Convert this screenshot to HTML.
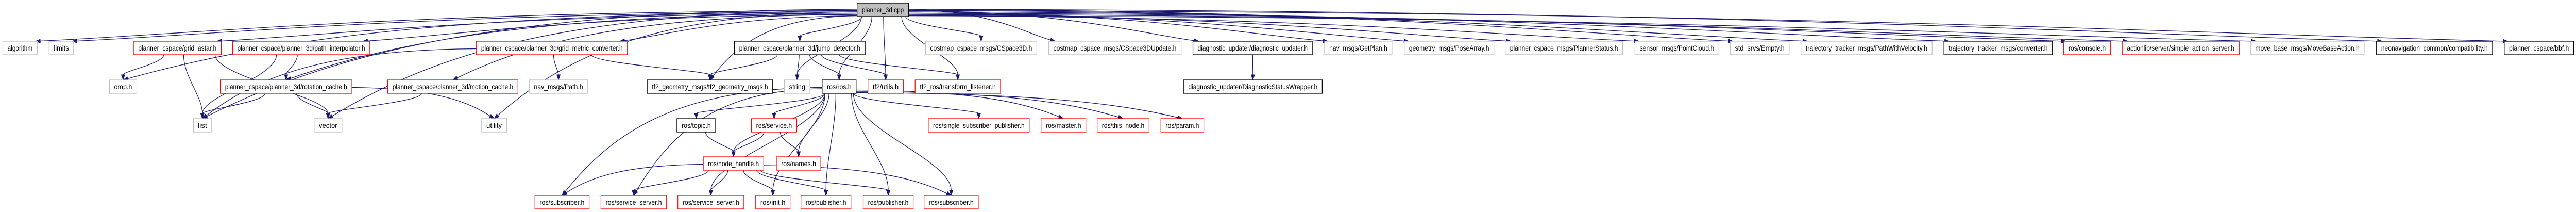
<!DOCTYPE html>
<html><head><meta charset="utf-8"><style>
html,body{margin:0;padding:0;background:#fff;width:100%;height:100%;overflow:hidden;}
svg{display:block;position:absolute;left:0;top:0;width:100vw;height:100vh;}
text{font-family:"Liberation Sans",Arial,sans-serif;font-size:13.5px;fill:#000;}
.g{fill:#fff;stroke:#bfbfbf;stroke-width:1.3}
.r{fill:#fff;stroke:#ff0000;stroke-width:1.3}
.b{fill:#fff;stroke:#000;stroke-width:1.3}
.c{fill:#bfbfbf;stroke:#000;stroke-width:1.3}
</style></head><body>
<svg id="s" viewBox="0 0 5461 411" preserveAspectRatio="none" xmlns="http://www.w3.org/2000/svg" overflow="hidden">
<g id="edges" fill="none" stroke="#191970" stroke-width="1.3"></g>
<g id="arrows" fill="#191970" stroke="#191970" stroke-width="1"></g>
<g id="nodes">
<rect class="c" x="1817" y="6" width="109" height="26"/><text x="1827" y="24" textLength="89" lengthAdjust="spacingAndGlyphs">planner_3d.cpp</text>
<rect class="g" x="6" y="80" width="73" height="26"/><text x="16" y="98" textLength="53" lengthAdjust="spacingAndGlyphs">algorithm</text>
<rect class="g" x="104" y="80" width="52" height="26"/><text x="114" y="98" textLength="32" lengthAdjust="spacingAndGlyphs">limits</text>
<rect class="r" x="283" y="80" width="186" height="26"/><text x="293" y="98" textLength="166" lengthAdjust="spacingAndGlyphs">planner_cspace/grid_astar.h</text>
<rect class="r" x="493" y="80" width="291" height="26"/><text x="503" y="98" textLength="271" lengthAdjust="spacingAndGlyphs">planner_cspace/planner_3d/path_interpolator.h</text>
<rect class="r" x="1010" y="80" width="320" height="26"/><text x="1020" y="98" textLength="300" lengthAdjust="spacingAndGlyphs">planner_cspace/planner_3d/grid_metric_converter.h</text>
<rect class="b" x="1557" y="80" width="277" height="26"/><text x="1567" y="98" textLength="257" lengthAdjust="spacingAndGlyphs">planner_cspace/planner_3d/jump_detector.h</text>
<rect class="g" x="1962" y="80" width="236" height="26"/><text x="1972" y="98" textLength="216" lengthAdjust="spacingAndGlyphs">costmap_cspace_msgs/CSpace3D.h</text>
<rect class="g" x="2223" y="80" width="281" height="26"/><text x="2233" y="98" textLength="261" lengthAdjust="spacingAndGlyphs">costmap_cspace_msgs/CSpace3DUpdate.h</text>
<rect class="b" x="2529" y="80" width="253" height="26"/><text x="2539" y="98" textLength="233" lengthAdjust="spacingAndGlyphs">diagnostic_updater/diagnostic_updater.h</text>
<rect class="g" x="2808" y="80" width="143" height="26"/><text x="2818" y="98" textLength="123" lengthAdjust="spacingAndGlyphs">nav_msgs/GetPlan.h</text>
<rect class="g" x="2977" y="80" width="190" height="26"/><text x="2987" y="98" textLength="170" lengthAdjust="spacingAndGlyphs">geometry_msgs/PoseArray.h</text>
<rect class="g" x="3191" y="80" width="249" height="26"/><text x="3201" y="98" textLength="229" lengthAdjust="spacingAndGlyphs">planner_cspace_msgs/PlannerStatus.h</text>
<rect class="g" x="3466" y="80" width="178" height="26"/><text x="3476" y="98" textLength="158" lengthAdjust="spacingAndGlyphs">sensor_msgs/PointCloud.h</text>
<rect class="g" x="3668" y="80" width="125" height="26"/><text x="3678" y="98" textLength="105" lengthAdjust="spacingAndGlyphs">std_srvs/Empty.h</text>
<rect class="g" x="3818" y="80" width="278" height="26"/><text x="3828" y="98" textLength="258" lengthAdjust="spacingAndGlyphs">trajectory_tracker_msgs/PathWithVelocity.h</text>
<rect class="b" x="4121" y="80" width="230" height="26"/><text x="4131" y="98" textLength="210" lengthAdjust="spacingAndGlyphs">trajectory_tracker_msgs/converter.h</text>
<rect class="r" x="4375" y="80" width="99" height="26"/><text x="4385" y="98" textLength="79" lengthAdjust="spacingAndGlyphs">ros/console.h</text>
<rect class="r" x="4499" y="80" width="248" height="26"/><text x="4509" y="98" textLength="228" lengthAdjust="spacingAndGlyphs">actionlib/server/simple_action_server.h</text>
<rect class="g" x="4771" y="80" width="241" height="26"/><text x="4781" y="98" textLength="221" lengthAdjust="spacingAndGlyphs">move_base_msgs/MoveBaseAction.h</text>
<rect class="b" x="5038" y="80" width="246" height="26"/><text x="5048" y="98" textLength="226" lengthAdjust="spacingAndGlyphs">neonavigation_common/compatibility.h</text>
<rect class="b" x="5309" y="80" width="147" height="26"/><text x="5319" y="98" textLength="127" lengthAdjust="spacingAndGlyphs">planner_cspace/bbf.h</text>
<rect class="g" x="232" y="155" width="58" height="26"/><text x="242" y="173" textLength="38" lengthAdjust="spacingAndGlyphs">omp.h</text>
<rect class="r" x="467" y="155" width="279" height="26"/><text x="477" y="173" textLength="259" lengthAdjust="spacingAndGlyphs">planner_cspace/planner_3d/rotation_cache.h</text>
<rect class="r" x="822" y="155" width="276" height="26"/><text x="832" y="173" textLength="256" lengthAdjust="spacingAndGlyphs">planner_cspace/planner_3d/motion_cache.h</text>
<rect class="g" x="1122" y="155" width="124" height="26"/><text x="1132" y="173" textLength="104" lengthAdjust="spacingAndGlyphs">nav_msgs/Path.h</text>
<rect class="b" x="1372" y="155" width="266" height="26"/><text x="1382" y="173" textLength="246" lengthAdjust="spacingAndGlyphs">tf2_geometry_msgs/tf2_geometry_msgs.h</text>
<rect class="g" x="1663" y="155" width="54" height="26"/><text x="1673" y="173" textLength="34" lengthAdjust="spacingAndGlyphs">string</text>
<rect class="b" x="1743" y="155" width="72" height="26"/><text x="1753" y="173" textLength="52" lengthAdjust="spacingAndGlyphs">ros/ros.h</text>
<rect class="r" x="1840" y="155" width="75" height="26"/><text x="1850" y="173" textLength="55" lengthAdjust="spacingAndGlyphs">tf2/utils.h</text>
<rect class="r" x="1940" y="155" width="181" height="26"/><text x="1950" y="173" textLength="161" lengthAdjust="spacingAndGlyphs">tf2_ros/transform_listener.h</text>
<rect class="b" x="2509" y="155" width="294" height="26"/><text x="2519" y="173" textLength="274" lengthAdjust="spacingAndGlyphs">diagnostic_updater/DiagnosticStatusWrapper.h</text>
<rect class="g" x="410" y="230" width="38" height="26"/><text x="419" y="248" textLength="20" lengthAdjust="spacingAndGlyphs">list</text>
<rect class="g" x="666" y="230" width="59" height="26"/><text x="676" y="248" textLength="39" lengthAdjust="spacingAndGlyphs">vector</text>
<rect class="g" x="1021" y="230" width="53" height="26"/><text x="1031" y="248" textLength="33" lengthAdjust="spacingAndGlyphs">utility</text>
<rect class="b" x="1435" y="230" width="82" height="26"/><text x="1445" y="248" textLength="62" lengthAdjust="spacingAndGlyphs">ros/topic.h</text>
<rect class="r" x="1593" y="230" width="96" height="26"/><text x="1603" y="248" textLength="76" lengthAdjust="spacingAndGlyphs">ros/service.h</text>
<rect class="r" x="1968" y="230" width="214" height="26"/><text x="1978" y="248" textLength="194" lengthAdjust="spacingAndGlyphs">ros/single_subscriber_publisher.h</text>
<rect class="r" x="2207" y="230" width="95" height="26"/><text x="2217" y="248" textLength="75" lengthAdjust="spacingAndGlyphs">ros/master.h</text>
<rect class="r" x="2326" y="230" width="110" height="26"/><text x="2336" y="248" textLength="90" lengthAdjust="spacingAndGlyphs">ros/this_node.h</text>
<rect class="r" x="2461" y="230" width="91" height="26"/><text x="2471" y="248" textLength="71" lengthAdjust="spacingAndGlyphs">ros/param.h</text>
<rect class="r" x="1491" y="304" width="128" height="26"/><text x="1501" y="322" textLength="108" lengthAdjust="spacingAndGlyphs">ros/node_handle.h</text>
<rect class="r" x="1646" y="304" width="94" height="26"/><text x="1656" y="322" textLength="74" lengthAdjust="spacingAndGlyphs">ros/names.h</text>
<rect class="r" x="1134" y="379" width="115" height="26"/><text x="1144" y="397" textLength="95" lengthAdjust="spacingAndGlyphs">ros/subscriber.h</text>
<rect class="r" x="1274" y="379" width="139" height="26"/><text x="1284" y="397" textLength="119" lengthAdjust="spacingAndGlyphs">ros/service_server.h</text>
<rect class="r" x="1437" y="379" width="140" height="26"/><text x="1447" y="397" textLength="120" lengthAdjust="spacingAndGlyphs">ros/service_server.h</text>
<rect class="r" x="1602" y="379" width="73" height="26"/><text x="1612" y="397" textLength="53" lengthAdjust="spacingAndGlyphs">ros/init.h</text>
<rect class="r" x="1698" y="379" width="106" height="26"/><text x="1708" y="397" textLength="86" lengthAdjust="spacingAndGlyphs">ros/publisher.h</text>
<rect class="r" x="1830" y="379" width="106" height="26"/><text x="1840" y="397" textLength="86" lengthAdjust="spacingAndGlyphs">ros/publisher.h</text>
<rect class="r" x="1959" y="379" width="115" height="26"/><text x="1969" y="397" textLength="95" lengthAdjust="spacingAndGlyphs">ros/subscriber.h</text>
</g>
</svg>
<script>
var R=[6,80,155,230,304,379];
var N={cpp:[1817,1926,0],algorithm:[6,79,1],limits:[104,156,1],astar:[283,469,1],pint:[493,784,1],gmc:[1010,1330,1],jump:[1557,1834,1],cs3d:[1962,2198,1],cs3du:[2223,2504,1],diag:[2529,2782,1],getplan:[2808,2951,1],pose:[2977,3167,1],pstat:[3191,3440,1],pcl:[3466,3644,1],empty:[3668,3793,1],pwv:[3818,4096,1],conv:[4121,4351,1],console:[4375,4474,1],sas:[4499,4747,1],mba:[4771,5012,1],compat:[5038,5284,1],bbf:[5309,5456,1],omp:[232,290,2],rot:[467,746,2],motion:[822,1098,2],path:[1122,1246,2],tf2gm:[1372,1638,2],string:[1663,1717,2],ros:[1743,1815,2],utils:[1840,1915,2],tl:[1940,2121,2],dsw:[2509,2803,2],list:[410,448,3],vector:[666,725,3],utility:[1021,1074,3],topic:[1435,1517,3],service:[1593,1689,3],ssp:[1968,2182,3],master:[2207,2302,3],thisnode:[2326,2436,3],param:[2461,2552,3],nh:[1491,1619,4],names:[1646,1740,4],sub1:[1134,1249,5],ss1:[1274,1413,5],ss2:[1437,1577,5],init:[1602,1675,5],pub1:[1698,1804,5],pub2:[1830,1936,5],sub2:[1959,2074,5]};
var E=[];
["algorithm","limits","astar","pint","gmc","jump","cs3d","cs3du","diag","getplan","pose","pstat","pcl","empty","pwv","conv","console","sas","mba","compat","bbf","omp","rot","motion","tf2gm","string","ros","utils","tl","list","vector","utility"].forEach(function(t){E.push(["cpp",t]);});
E=E.concat([["astar","omp"],["astar","list"],["astar","vector"],["pint","list"],["pint","rot"],["rot","list"],["rot","vector"],["rot","utility"],["motion","vector"],["gmc","path"],["gmc","tf2gm"],["gmc","list"],["jump","tf2gm"],["jump","string"],["jump","ros"],["jump","utils"],["jump","tl"],["diag","dsw"],
["ros","topic"],["ros","service"],["ros","nh"],["ros","names"],["ros","sub1"],["ros","ss1"],["ros","ss2"],["ros","init"],["ros","pub1"],["ros","pub2"],["ros","sub2"],["ros","ssp"],["ros","master"],["ros","thisnode"],["ros","param"],
["topic","nh"],["service","nh"],["service","names"],["nh","sub1"],["nh","ss1"],["nh","ss2"],["nh","init"],["nh","pub1"],["nh","pub2"],["nh","sub2"]]);
var ns="http://www.w3.org/2000/svg",eg=document.getElementById("edges"),ag=document.getElementById("arrows");
var cnt={};
E.forEach(function(e){
 var S=N[e[0]],T=N[e[1]];
 var scx=(S[0]+S[1])/2,sy=R[S[2]]+26,tcx=(T[0]+T[1])/2,ty=R[T[2]];
 var sx,tx,c1,c2;
 var far=Math.abs(tcx-scx)>350;
 if(far){
  cnt[e[0]]=(cnt[e[0]]||0)+1;
  sy=R[S[2]]+12+(cnt[e[0]]%6)*2.5;
  sx=tcx<scx?S[0]:S[1];
  tx=tcx<scx?Math.min(T[1]-3,tcx+(T[1]-T[0])*0.45):Math.max(T[0]+3,tcx-(T[1]-T[0])*0.45);
  if(T[2]>1){tx=tcx;}
  var dx=tx-sx;
  c1=[sx+dx*0.55,sy+2];
  c2=[tx-dx*0.2,ty-(ty-sy)*(T[2]>1?0.6:0.25)];
 } else {
  sx=Math.max(S[0]+6,Math.min(S[1]-6,scx+(tcx-scx)*0.25));
  tx=tcx;
  c1=[sx,sy+(ty-sy)*0.35];
  c2=[tx,ty-(ty-sy)*0.35];
 }
 var vx=tx-c2[0],vy=ty-c2[1],L=Math.sqrt(vx*vx+vy*vy)||1;vx/=L;vy/=L;
 var bx=tx-vx*10,by=ty-vy*10;
 var p=document.createElementNS(ns,"path");
 p.setAttribute("d","M"+sx+","+sy+" C"+c1[0]+","+c1[1]+" "+c2[0]+","+c2[1]+" "+bx+","+by);
 eg.appendChild(p);
 var px=-vy*3.6,py=vx*3.6;
 var a=document.createElementNS(ns,"polygon");
 a.setAttribute("points",tx+","+ty+" "+(bx+px)+","+(by+py)+" "+(bx-px)+","+(by-py));
 ag.appendChild(a);
});
</script>
</body></html>
